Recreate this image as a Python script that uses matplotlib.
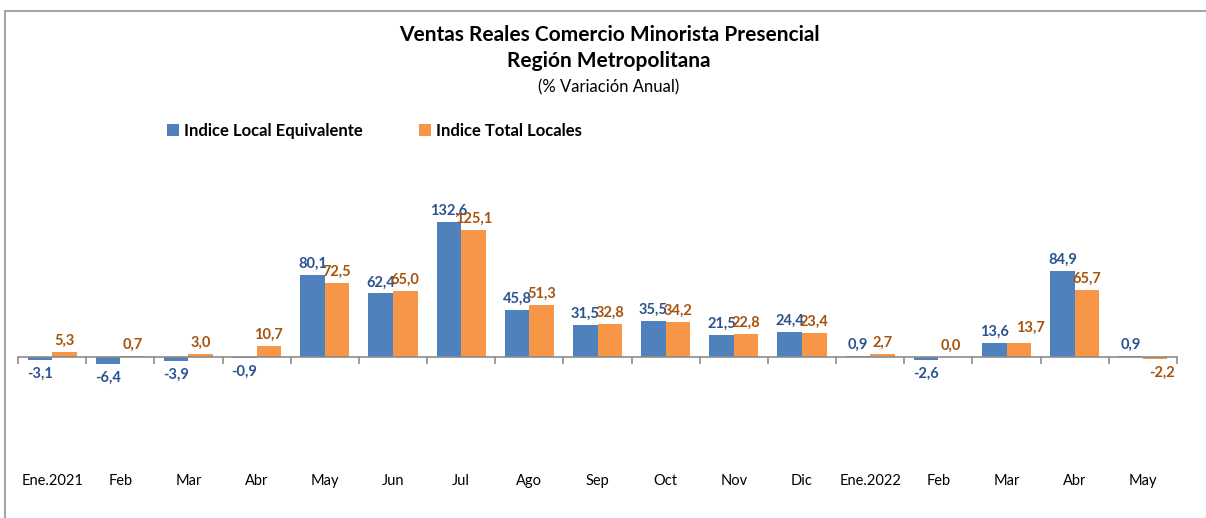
import numpy as np
import matplotlib.pyplot as plt
from matplotlib.patches import Rectangle

plt.rcParams['font.family'] = ['Lato', 'DejaVu Sans']

meses = ["Ene.2021", "Feb", "Mar", "Abr", "May", "Jun", "Jul", "Ago", "Sep", "Oct",
         "Nov", "Dic", "Ene.2022", "Feb", "Mar", "Abr", "May"]
local_equiv = [-3.1, -6.4, -3.9, -0.9, 80.1, 62.4, 132.6, 45.8, 31.5, 35.5,
               21.5, 24.4, 0.9, -2.6, 13.6, 84.9, 0.9]
total_locales = [5.3, 0.7, 3.0, 10.7, 72.5, 65.0, 125.1, 51.3, 32.8, 34.2,
                 22.8, 23.4, 2.7, 0.0, 13.7, 65.7, -2.2]

azul = '#4F81BD'
naranjo = '#F79646'
azul_txt = '#2A5291'
naranjo_txt = '#A5530E'

W, H = 1206, 518
fig = plt.figure(figsize=(W / 100, H / 100), dpi=100)

# plot area in pixels
zero_px = 357
scale = 1.018
ymin, ymax = -60, 140
top_px = zero_px - ymax * scale
bot_px = zero_px - ymin * scale
ax = fig.add_axes([18 / W, 1 - bot_px / H, (1177 - 18) / W, (bot_px - top_px) / H])

x = np.arange(len(meses))
w = 0.36
ax.bar(x - w / 2, local_equiv, w, color=azul, label='Indice Local Equivalente')
ax.bar(x + w / 2, total_locales, w, color=naranjo, label='Indice Total Locales')


def fmt(v):
    return f"{v:.1f}".replace('.', ',')


# labels moved by hand in the original (index -> offset in points)
ajuste_naranjo = {14: (8, 3), 16: (5, 0)}

for xi, v in zip(x - w / 2, local_equiv):
    if v >= 0:
        ax.annotate(fmt(v), (xi, v), xytext=(0, 3), textcoords='offset points',
                    ha='center', va='bottom', color=azul_txt, fontsize=10.5, fontweight='bold')
    else:
        ax.annotate(fmt(v), (xi, v), xytext=(0, -5), textcoords='offset points',
                    ha='center', va='top', color=azul_txt, fontsize=10.5, fontweight='bold')
for i, (xi, v) in enumerate(zip(x + w / 2, total_locales)):
    dx, dy = ajuste_naranjo.get(i, (0, 0))
    if v >= 0:
        ax.annotate(fmt(v), (xi, v), xytext=(dx, 3 + dy), textcoords='offset points',
                    ha='center', va='bottom', color=naranjo_txt, fontsize=10.5, fontweight='bold')
    else:
        ax.annotate(fmt(v), (xi, v), xytext=(dx, -5 + dy), textcoords='offset points',
                    ha='center', va='top', color=naranjo_txt, fontsize=10.5, fontweight='bold')

ax.set_xlim(-0.5, len(meses) - 0.5)
ax.set_ylim(ymin, ymax)
for s in ['top', 'right', 'left']:
    ax.spines[s].set_visible(False)
ax.spines['bottom'].set_position(('data', 0))
ax.spines['bottom'].set_color('#8C8C8C')
ax.spines['bottom'].set_linewidth(1.2)
ax.set_yticks([])
ax.set_xticks(x)
ax.set_xticklabels(meses, fontsize=10.5)
ax.tick_params(axis='x', which='major', length=0, pad=84, colors='black')
ax.set_xticks(np.arange(-0.5, len(meses), 1), minor=True)
ax.tick_params(axis='x', which='minor', length=5, width=1.2, color='#8C8C8C', direction='out')
ax.patch.set_visible(False)

fig.text(609 / W, 1 - 35 / H, "Ventas Reales Comercio Minorista Presencial", ha='center', va='center',
         fontsize=15, fontweight='bold')
fig.text(609 / W, 1 - 61 / H, "Región Metropolitana", ha='center', va='center',
         fontsize=15, fontweight='bold')
fig.text(609 / W, 1 - 87 / H, "(% Variación Anual)", ha='center', va='center', fontsize=12)

leg = ax.legend(loc='center left', bbox_to_anchor=(167 / W, 1 - 131 / H), bbox_transform=fig.transFigure,
                ncol=2, frameon=False, handlelength=0.7, handleheight=0.7, handletextpad=0.3,
                columnspacing=3.4, borderpad=0, borderaxespad=0, prop={'weight': 'bold', 'size': 12})

fig.add_artist(Rectangle((5 / W, -0.1), 2, 1.1 - 11 / H, transform=fig.transFigure,
                         fill=False, edgecolor='#A6A6A6', linewidth=1.5))

fig.savefig('out.png', dpi=100)
